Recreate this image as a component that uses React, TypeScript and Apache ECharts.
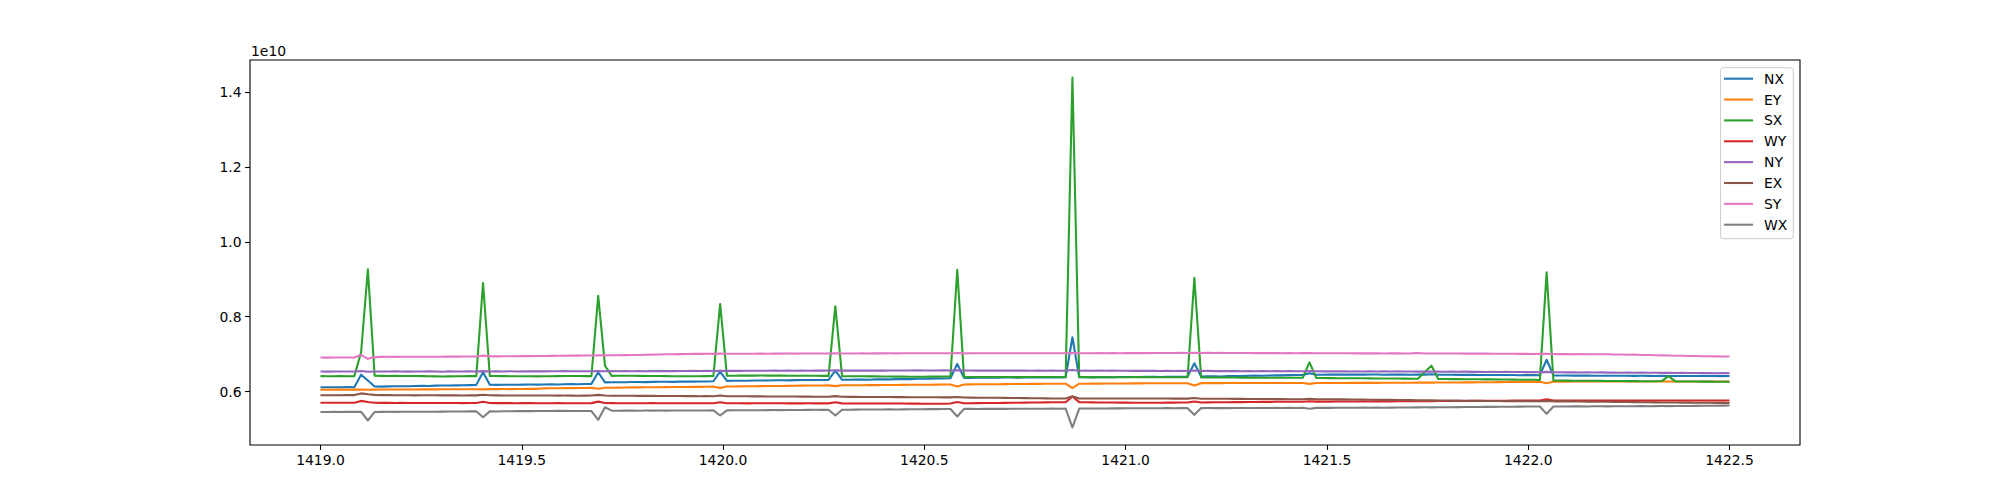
import React, { useEffect, useRef } from "react";
import * as echarts from "echarts";

// Sampling grid of the time axis
const X_START = 1419.0;
const X_END = 1422.5;
const N_POINTS = 209;

// Values in units of 1e6 (plotted as raw values, axis labelled in 1e10)
const UNIT = 1e6;

const SERIES_NAMES = ["NX", "EY", "SX", "WY", "NY", "EX", "SY", "WX"];
const COLORS = ["#1f77b4", "#ff7f0e", "#2ca02c", "#d62728", "#9467bd", "#8c564b", "#e377c2", "#7f7f7f"];

const X_TICKS = [1419.0, 1419.5, 1420.0, 1420.5, 1421.0, 1421.5, 1422.0, 1422.5];
const Y_TICKS = [0.6e10, 0.8e10, 1.0e10, 1.2e10, 1.4e10];
const OFFSET_LABEL = "1e10";

const NX = [
  6115, 6113, 6116, 6114, 6117, 6116, 6450, 6295, 6135, 6132,
  6138, 6140, 6143, 6142, 6150, 6152, 6150, 6158, 6160, 6163,
  6165, 6168, 6172, 6178, 6516, 6180, 6178, 6182, 6180, 6183,
  6185, 6186, 6184, 6190, 6192, 6190, 6195, 6197, 6196, 6201,
  6205, 6516, 6245, 6248, 6250, 6247, 6253, 6255, 6252, 6258,
  6260, 6262, 6259, 6265, 6267, 6264, 6268, 6270, 6275, 6534,
  6285, 6288, 6290, 6287, 6294, 6296, 6293, 6300, 6302, 6299,
  6305, 6306, 6308, 6310, 6307, 6312, 6560, 6313, 6316, 6318,
  6320, 6317, 6325, 6327, 6324, 6332, 6335, 6332, 6340, 6342,
  6344, 6347, 6350, 6355, 6740, 6365, 6362, 6368, 6370, 6367,
  6372, 6373, 6375, 6372, 6377, 6378, 6375, 6379, 6380, 6377,
  6380, 7450, 6381, 6382, 6379, 6384, 6385, 6383, 6387, 6388,
  6389, 6386, 6391, 6392, 6390, 6394, 6396, 6393, 6400, 6756,
  6402, 6404, 6406, 6403, 6411, 6414, 6412, 6421, 6425, 6423,
  6430, 6433, 6431, 6438, 6440, 6443, 6490, 6448, 6450, 6451,
  6452, 6455, 6452, 6454, 6451, 6455, 6454, 6450, 6452, 6452,
  6451, 6448, 6451, 6452, 6460, 6450, 6448, 6447, 6444, 6445,
  6445, 6442, 6443, 6442, 6440, 6441, 6440, 6437, 6439, 6438,
  6437, 6850, 6430, 6428, 6427, 6424, 6425, 6425, 6422, 6423,
  6423, 6420, 6422, 6421, 6418, 6420, 6419, 6416, 6418, 6417,
  6417, 6414, 6416, 6415, 6413, 6414, 6414, 6412, 6413,
];

const EY = [
  6050, 6049, 6051, 6050, 6048, 6050, 6052, 6049, 6051, 6053,
  6054, 6053, 6055, 6056, 6055, 6057, 6058, 6057, 6059, 6060,
  6061, 6060, 6062, 6063, 6058, 6064, 6065, 6066, 6065, 6067,
  6068, 6070, 6072, 6085, 6088, 6087, 6090, 6092, 6094, 6096,
  6098, 6075, 6100, 6103, 6105, 6107, 6110, 6112, 6113, 6115,
  6116, 6118, 6119, 6120, 6122, 6124, 6125, 6127, 6130, 6098,
  6133, 6136, 6138, 6140, 6142, 6144, 6146, 6148, 6150, 6152,
  6155, 6158, 6160, 6161, 6163, 6164, 6145, 6166, 6167, 6168,
  6170, 6171, 6172, 6173, 6175, 6176, 6177, 6179, 6180, 6182,
  6183, 6184, 6186, 6187, 6135, 6190, 6191, 6193, 6194, 6195,
  6196, 6198, 6199, 6200, 6202, 6204, 6205, 6206, 6207, 6208,
  6208, 6093, 6209, 6210, 6211, 6212, 6213, 6214, 6215, 6216,
  6217, 6218, 6219, 6220, 6220, 6221, 6222, 6222, 6223, 6160,
  6224, 6224, 6225, 6225, 6226, 6226, 6226, 6227, 6227, 6227,
  6228, 6228, 6228, 6228, 6229, 6229, 6205, 6229, 6229, 6230,
  6230, 6230, 6231, 6231, 6231, 6232, 6232, 6233, 6233, 6234,
  6235, 6236, 6237, 6238, 6238, 6239, 6240, 6242, 6243, 6244,
  6245, 6247, 6248, 6250, 6251, 6253, 6254, 6255, 6257, 6258,
  6259, 6220, 6262, 6264, 6265, 6266, 6267, 6267, 6267, 6268,
  6267, 6268, 6268, 6267, 6267, 6268, 6268, 6267, 6267, 6268,
  6268, 6267, 6267, 6268, 6267, 6267, 6268, 6267, 6267,
];

const SX = [
  6412, 6410, 6409, 6411, 6410, 6412, 7050, 9266, 6420, 6418,
  6417, 6418, 6416, 6414, 6413, 6412, 6410, 6405, 6402, 6404,
  6408, 6410, 6411, 6412, 8900, 6415, 6414, 6412, 6410, 6409,
  6410, 6408, 6405, 6406, 6409, 6411, 6413, 6414, 6413, 6412,
  6412, 8555, 6690, 6418, 6420, 6421, 6420, 6418, 6416, 6415,
  6413, 6412, 6410, 6408, 6407, 6408, 6410, 6412, 6413, 8340,
  6420, 6422, 6424, 6425, 6426, 6427, 6426, 6425, 6424, 6423,
  6422, 6421, 6420, 6420, 6419, 6418, 8280, 6412, 6410, 6408,
  6406, 6405, 6404, 6402, 6400, 6399, 6398, 6397, 6396, 6397,
  6398, 6399, 6400, 6401, 9255, 6392, 6390, 6390, 6389, 6388,
  6387, 6386, 6386, 6385, 6386, 6387, 6388, 6388, 6387, 6386,
  6385, 14390, 6386, 6385, 6384, 6383, 6382, 6381, 6382, 6383,
  6384, 6385, 6384, 6383, 6382, 6381, 6380, 6380, 6381, 9036,
  6378, 6377, 6376, 6375, 6374, 6373, 6372, 6371, 6370, 6369,
  6368, 6367, 6366, 6368, 6370, 6368, 6780, 6360, 6362, 6358,
  6355, 6356, 6355, 6354, 6353, 6352, 6350, 6349, 6348, 6346,
  6344, 6342, 6340, 6520, 6690, 6335, 6333, 6332, 6331, 6330,
  6328, 6326, 6325, 6324, 6322, 6320, 6318, 6317, 6315, 6313,
  6310, 9186, 6295, 6293, 6292, 6290, 6289, 6288, 6286, 6285,
  6283, 6282, 6280, 6279, 6278, 6276, 6275, 6274, 6280, 6410,
  6270, 6268, 6267, 6266, 6265, 6264, 6263, 6262, 6260,
];

const WY = [
  5700, 5698, 5699, 5701, 5700, 5702, 5750, 5720, 5698, 5697,
  5696, 5695, 5696, 5694, 5693, 5694, 5695, 5693, 5692, 5693,
  5692, 5691, 5692, 5693, 5725, 5692, 5690, 5691, 5690, 5689,
  5690, 5691, 5689, 5688, 5689, 5690, 5689, 5688, 5687, 5688,
  5690, 5730, 5695, 5690, 5689, 5688, 5687, 5688, 5689, 5690,
  5689, 5688, 5687, 5686, 5687, 5688, 5689, 5688, 5687, 5715,
  5688, 5686, 5685, 5684, 5685, 5686, 5687, 5686, 5685, 5684,
  5683, 5684, 5685, 5684, 5683, 5684, 5712, 5683, 5682, 5681,
  5680, 5679, 5680, 5681, 5680, 5679, 5678, 5677, 5676, 5675,
  5674, 5673, 5675, 5678, 5722, 5685, 5688, 5690, 5692, 5693,
  5695, 5697, 5700, 5702, 5704, 5706, 5708, 5710, 5712, 5714,
  5715, 5866, 5716, 5712, 5710, 5708, 5706, 5705, 5704, 5703,
  5702, 5701, 5700, 5701, 5702, 5703, 5704, 5705, 5706, 5735,
  5708, 5710, 5712, 5713, 5715, 5716, 5718, 5720, 5722, 5723,
  5724, 5725, 5726, 5727, 5728, 5729, 5740, 5730, 5731, 5731,
  5732, 5732, 5733, 5733, 5734, 5735, 5736, 5737, 5738, 5739,
  5740, 5741, 5742, 5743, 5744, 5745, 5746, 5747, 5748, 5749,
  5750, 5751, 5752, 5753, 5754, 5755, 5756, 5757, 5758, 5758,
  5759, 5795, 5760, 5760, 5760, 5761, 5761, 5760, 5761, 5760,
  5760, 5761, 5760, 5760, 5761, 5760, 5760, 5761, 5760, 5762,
  5760, 5761, 5760, 5761, 5760, 5760, 5761, 5760, 5760,
];

const NY = [
  6534, 6532, 6535, 6533, 6536, 6534, 6550, 6530, 6535, 6537,
  6533, 6538, 6535, 6532, 6537, 6534, 6540, 6535, 6530, 6538,
  6536, 6534, 6539, 6535, 6545, 6536, 6540, 6537, 6541, 6536,
  6540, 6538, 6542, 6539, 6544, 6540, 6545, 6541, 6543, 6540,
  6544, 6548, 6541, 6545, 6542, 6546, 6543, 6547, 6544, 6548,
  6545, 6549, 6546, 6550, 6547, 6551, 6548, 6552, 6549, 6556,
  6552, 6555, 6551, 6556, 6553, 6557, 6554, 6558, 6555, 6559,
  6556, 6560, 6557, 6561, 6558, 6562, 6565, 6558, 6562, 6559,
  6563, 6558, 6562, 6559, 6563, 6560, 6564, 6561, 6565, 6560,
  6564, 6561, 6565, 6562, 6570, 6560, 6564, 6559, 6563, 6558,
  6562, 6559, 6564, 6558, 6562, 6557, 6561, 6556, 6560, 6555,
  6559, 6575, 6556, 6560, 6555, 6559, 6554, 6558, 6553, 6557,
  6552, 6556, 6551, 6555, 6550, 6554, 6549, 6553, 6548, 6560,
  6547, 6551, 6546, 6550, 6545, 6549, 6544, 6548, 6543, 6547,
  6542, 6546, 6541, 6545, 6540, 6544, 6550, 6543, 6539, 6543,
  6538, 6542, 6537, 6541, 6536, 6540, 6535, 6539, 6534, 6538,
  6533, 6537, 6532, 6536, 6531, 6535, 6530, 6533, 6528, 6531,
  6526, 6529, 6524, 6527, 6522, 6525, 6520, 6523, 6518, 6521,
  6516, 6525, 6514, 6517, 6512, 6515, 6510, 6513, 6508, 6511,
  6506, 6509, 6504, 6507, 6502, 6505, 6500, 6503, 6498, 6501,
  6496, 6499, 6494, 6497, 6492, 6495, 6490, 6493, 6488,
];

const EX = [
  5900, 5902, 5899, 5901, 5903, 5905, 5950, 5925, 5910, 5905,
  5903, 5900, 5901, 5899, 5898, 5900, 5901, 5899, 5898, 5897,
  5898, 5896, 5897, 5898, 5915, 5900, 5897, 5895, 5896, 5894,
  5895, 5893, 5894, 5892, 5893, 5891, 5892, 5890, 5889, 5890,
  5892, 5910, 5893, 5888, 5887, 5885, 5886, 5884, 5883, 5884,
  5882, 5881, 5880, 5879, 5878, 5877, 5876, 5877, 5875, 5895,
  5876, 5874, 5873, 5872, 5871, 5870, 5869, 5868, 5867, 5866,
  5865, 5864, 5863, 5862, 5861, 5860, 5878, 5860, 5858, 5857,
  5856, 5855, 5854, 5853, 5852, 5851, 5850, 5849, 5848, 5847,
  5846, 5845, 5844, 5843, 5855, 5840, 5838, 5836, 5834, 5833,
  5832, 5830, 5828, 5826, 5824, 5822, 5820, 5818, 5816, 5815,
  5814, 5875, 5815, 5814, 5815, 5816, 5815, 5814, 5815, 5816,
  5815, 5814, 5815, 5814, 5813, 5812, 5811, 5810, 5810, 5825,
  5809, 5808, 5807, 5806, 5805, 5804, 5803, 5802, 5801, 5800,
  5799, 5798, 5797, 5796, 5795, 5795, 5805, 5794, 5793, 5792,
  5791, 5790, 5788, 5786, 5784, 5782, 5780, 5778, 5776, 5774,
  5772, 5770, 5768, 5766, 5764, 5762, 5760, 5758, 5756, 5754,
  5752, 5750, 5748, 5746, 5745, 5744, 5743, 5742, 5741, 5740,
  5739, 5750, 5738, 5737, 5736, 5735, 5733, 5731, 5729, 5727,
  5725, 5723, 5721, 5719, 5717, 5715, 5713, 5711, 5709, 5708,
  5706, 5704, 5703, 5701, 5700, 5698, 5697, 5696, 5695,
];

const SY = [
  6908, 6906, 6909, 6907, 6910, 6908, 6980, 6873, 6920, 6925,
  6927, 6926, 6928, 6930, 6929, 6931, 6930, 6928, 6931, 6933,
  6932, 6934, 6935, 6937, 6960, 6945, 6940, 6942, 6941, 6943,
  6945, 6947, 6949, 6951, 6953, 6955, 6957, 6959, 6960, 6961,
  6962, 6965, 6966, 6968, 6970, 6972, 6975, 6978, 6981, 6985,
  6990, 6994, 6998, 7000, 7003, 7005, 7007, 7008, 7006, 7012,
  7008, 7010, 7009, 7011, 7010, 7012, 7011, 7013, 7012, 7014,
  7013, 7015, 7014, 7016, 7015, 7017, 7022, 7016, 7018, 7017,
  7019, 7018, 7020, 7019, 7021, 7020, 7022, 7021, 7023, 7022,
  7023, 7021, 7024, 7022, 7030, 7020, 7023, 7021, 7024, 7022,
  7025, 7023, 7024, 7022, 7025, 7023, 7024, 7022, 7025, 7023,
  7024, 7030, 7022, 7025, 7023, 7026, 7024, 7027, 7025, 7028,
  7026, 7029, 7027, 7030, 7028, 7031, 7029, 7032, 7030, 7035,
  7031, 7033, 7030, 7032, 7029, 7031, 7028, 7030, 7027, 7029,
  7026, 7028, 7025, 7027, 7024, 7026, 7028, 7023, 7025, 7022,
  7024, 7021, 7023, 7020, 7022, 7019, 7021, 7018, 7020, 7025,
  7017, 7019, 7030, 7016, 7018, 7015, 7017, 7014, 7016, 7013,
  7015, 7012, 7013, 7010, 7011, 7008, 7009, 7006, 7007, 7004,
  7005, 7008, 7003, 7000, 7001, 6998, 6999, 6996, 6997, 6994,
  6994, 6990, 6988, 6984, 6990, 6978, 6975, 6970, 6966, 6962,
  6958, 6955, 6950, 6948, 6944, 6942, 6940, 6937, 6935,
];

const WX = [
  5455, 5453, 5456, 5454, 5457, 5456, 5458, 5226, 5455, 5457,
  5458, 5456, 5459, 5460, 5458, 5461, 5462, 5460, 5463, 5465,
  5466, 5468, 5470, 5472, 5314, 5470, 5468, 5472, 5474, 5476,
  5478, 5476, 5480, 5482, 5479, 5483, 5485, 5482, 5480, 5479,
  5478, 5243, 5580, 5488, 5486, 5489, 5490, 5488, 5491, 5490,
  5492, 5490, 5493, 5491, 5494, 5493, 5495, 5494, 5496, 5360,
  5497, 5499, 5498, 5500, 5502, 5501, 5503, 5505, 5504, 5506,
  5508, 5507, 5509, 5511, 5510, 5512, 5360, 5514, 5515, 5517,
  5518, 5520, 5519, 5521, 5523, 5522, 5524, 5526, 5525, 5527,
  5529, 5530, 5532, 5534, 5333, 5536, 5537, 5535, 5538, 5536,
  5539, 5537, 5540, 5538, 5541, 5539, 5542, 5540, 5543, 5541,
  5544, 5039, 5545, 5547, 5546, 5548, 5547, 5549, 5550, 5552,
  5553, 5552, 5554, 5555, 5553, 5556, 5555, 5557, 5556, 5377,
  5557, 5558, 5556, 5559, 5557, 5560, 5558, 5561, 5559, 5562,
  5560, 5563, 5561, 5564, 5562, 5565, 5540, 5563, 5566, 5564,
  5567, 5565, 5568, 5566, 5569, 5567, 5570, 5568, 5571, 5572,
  5574, 5573, 5576, 5578, 5577, 5580, 5582, 5581, 5584, 5586,
  5585, 5588, 5590, 5589, 5592, 5594, 5593, 5596, 5598, 5600,
  5599, 5404, 5601, 5602, 5600, 5603, 5604, 5602, 5605, 5606,
  5604, 5607, 5608, 5606, 5609, 5610, 5608, 5611, 5612, 5610,
  5613, 5615, 5614, 5617, 5618, 5620, 5622, 5624, 5626,
];

const SERIES_VALUES = [NX, EY, SX, WY, NY, EX, SY, WX];

const FONT = "DejaVu Sans";
const FONT_SIZE = 13.9;

export default function App() {
  const ref = useRef<HTMLDivElement>(null);

  useEffect(() => {
    document.body.style.margin = "0";
    if (!ref.current) return;
    const chart = echarts.init(ref.current, null, { renderer: "svg" });

    const step = (X_END - X_START) / (N_POINTS - 1);
    const xs = Array.from({ length: N_POINTS }, (_, i) => X_START + i * step);

    let yMin = Infinity;
    let yMax = -Infinity;
    SERIES_VALUES.forEach((arr) =>
      arr.forEach((v) => {
        const r = v * UNIT;
        if (r < yMin) yMin = r;
        if (r > yMax) yMax = r;
      })
    );
    const yPad = (yMax - yMin) * 0.05;
    const xPad = (X_END - X_START) * 0.05;

    const series = SERIES_NAMES.map((name, k) => ({
      name,
      type: "line",
      symbol: "none",
      showSymbol: false,
      data: SERIES_VALUES[k].map((v, i) => [xs[i], v * UNIT]),
      lineStyle: { color: COLORS[k], width: 2.08, join: "round", cap: "butt" },
      itemStyle: { color: COLORS[k] },
      emphasis: { disabled: true },
      clip: true,
    }));

    chart.setOption({
      animation: false,
      backgroundColor: "#ffffff",
      grid: {
        left: 250,
        right: 200,
        top: 60,
        bottom: 55,
        show: true,
        borderColor: "#000000",
        borderWidth: 1.1,
        backgroundColor: "transparent",
      },
      xAxis: {
        type: "value",
        min: X_START - xPad,
        max: X_END + xPad,
        axisLine: { show: false },
        splitLine: { show: false },
        axisTick: {
          show: true,
          customValues: X_TICKS,
          length: 4.9,
          lineStyle: { color: "#000000", width: 1.1 },
        },
        axisLabel: {
          customValues: X_TICKS,
          formatter: (v: number) => v.toFixed(1),
          color: "#000000",
          fontFamily: FONT,
          fontSize: FONT_SIZE,
          margin: 8,
        },
      },
      yAxis: {
        type: "value",
        min: yMin - yPad,
        max: yMax + yPad,
        axisLine: { show: false },
        splitLine: { show: false },
        axisTick: {
          show: true,
          customValues: Y_TICKS,
          length: 4.9,
          lineStyle: { color: "#000000", width: 1.1 },
        },
        axisLabel: {
          customValues: Y_TICKS,
          formatter: (v: number) => (v / 1e10).toFixed(1),
          color: "#000000",
          fontFamily: FONT,
          fontSize: FONT_SIZE,
          margin: 8.5,
        },
      },
      legend: {
        orient: "vertical",
        right: 206.7,
        top: 67.7,
        data: SERIES_NAMES,
        icon: "rect",
        itemWidth: 29,
        itemHeight: 2.08,
        itemGap: 6.86,
        padding: [4, 6, 7, 3.6],
        borderColor: "#cccccc",
        borderWidth: 1,
        borderRadius: 3,
        backgroundColor: "rgba(255,255,255,0.8)",
        selectedMode: false,
        textStyle: {
          color: "#000000",
          fontFamily: FONT,
          fontSize: FONT_SIZE,
          lineHeight: 14,
          padding: [0, 0, 0, 6],
        },
      },
      graphic: [
        {
          type: "text",
          left: 251,
          top: 44,
          style: {
            text: OFFSET_LABEL,
            fill: "#000000",
            font: `${FONT_SIZE}px "${FONT}"`,
          },
        },
      ],
      series,
    });

    return () => chart.dispose();
  }, []);

  return (
    <div
      ref={ref}
      style={{ position: "fixed", left: 0, top: 0, width: 2000, height: 500 }}
    />
  );
}
